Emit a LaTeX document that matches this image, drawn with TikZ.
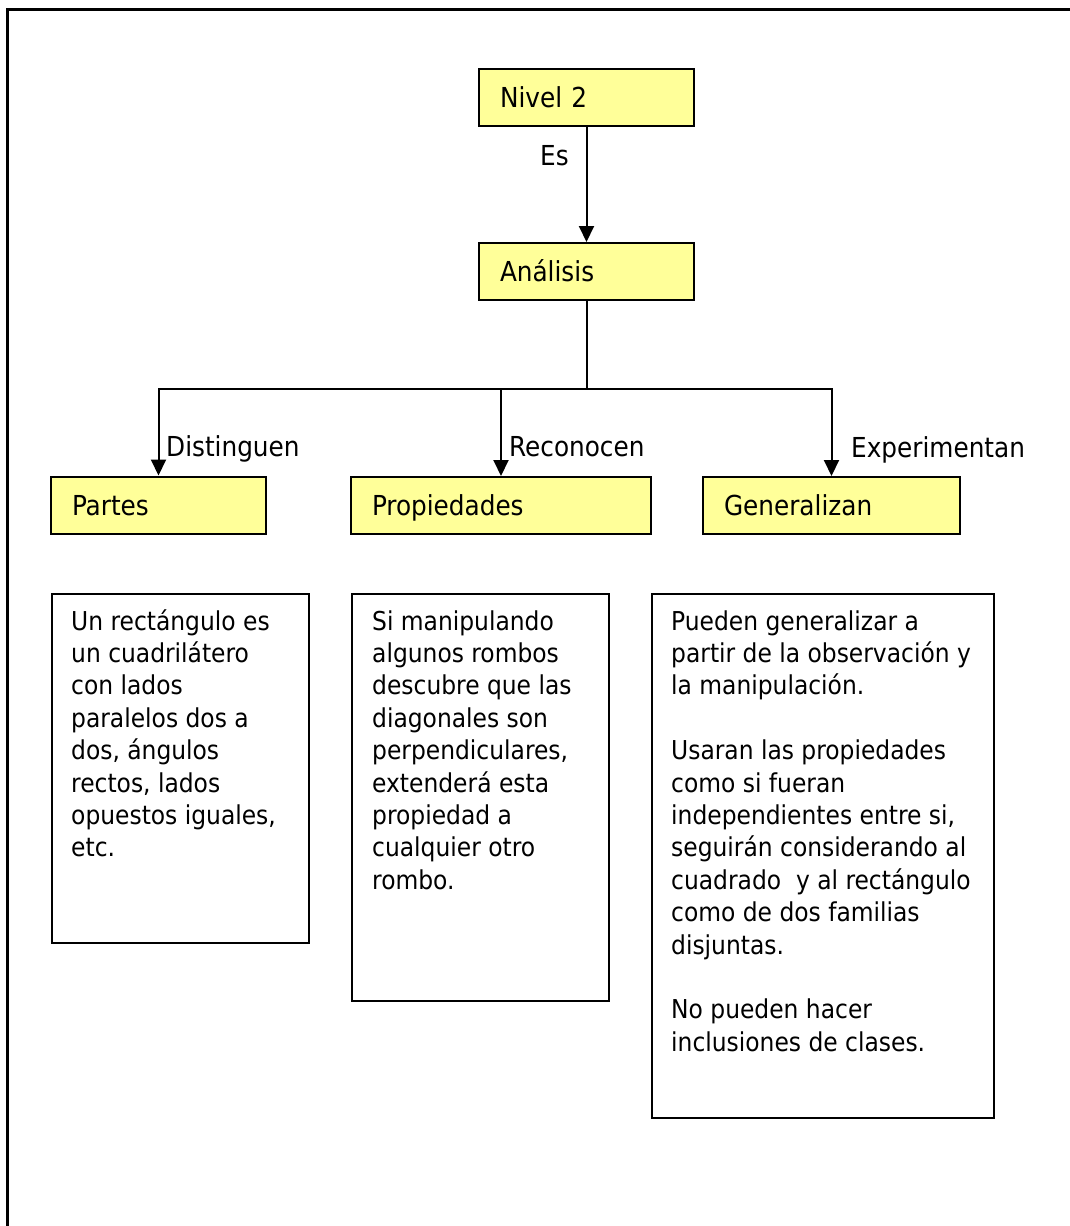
\documentclass[tikz,border=0pt]{standalone}
\usepackage{fontspec}
\setmainfont{DejaVu Sans Condensed}
\usetikzlibrary{arrows.meta}
\definecolor{boxyellow}{HTML}{FFFF99}
\begin{document}
\begin{tikzpicture}[x=1pt,y=-1pt,
  hdr/.style={draw=black, line width=2pt, fill=boxyellow, minimum height=57pt,
    inner xsep=21pt, inner ysep=0pt, align=left, text height=20pt, text depth=0pt,
    font=\fontsize{27.5}{33}\selectfont},
  lbl/.style={inner sep=0pt, font=\fontsize{27.5}{33}\selectfont},
  tbox/.style={draw=black, line width=2pt, anchor=north west, inner sep=0pt},
  ttext/.style={anchor=north west, inner sep=0pt, align=left, font=\fontsize{26}{32.4}\selectfont},
  conn/.style={line width=2pt},
  arr/.style={line width=2pt, -{Triangle[width=15pt,length=16pt]}}
]
\useasboundingbox (0,0) rectangle (1069,1226);
% outer frame
\draw[line width=3pt] (1080,9) -- (7,9) -- (7,1240);

% header boxes
\node[hdr, text width=173pt] (nivel) at (586.5,97) {Nivel 2};
\node[hdr, text width=173pt] (analisis) at (586.5,271.5) {Análisis};
\node[hdr, text width=173pt] (partes) at (158.5,505) {Partes};
\node[hdr, text width=258pt] (prop) at (501,505.5) {Propiedades};
\node[hdr, text width=215pt] (gen) at (831.5,505.5) {Generalizan};

% connectors
\draw[arr] (nivel.south) -- (analisis.north);
\draw[conn] (analisis.south) -- ++(0,88) coordinate (split);
\draw[arr] (split) -| (partes.north);
\draw[arr] (split) -| (prop.north);
\draw[arr] (split) -| (gen.north);

% labels
\node[lbl, anchor=base west] (les) at (540,165) {Es};
\node[lbl, anchor=base west] (ldis) at (166,456) {Distinguen};
\node[lbl, anchor=base west] (lrec) at (509,456) {Reconocen};
\node[lbl, anchor=base west] (lexp) at (851,457) {Experimentan};

% text boxes
\node[tbox, minimum width=257pt, minimum height=349pt] (b1) at (51,593) {};
\node[tbox, minimum width=257pt, minimum height=407pt] (b2) at (351,593) {};
\node[tbox, minimum width=342pt, minimum height=524pt] (b3) at (651,593) {};

\node[ttext] (t1) at ([xshift=20pt,yshift=-14.3pt]b1.north west) {\strut Un rectángulo es\\
un cuadrilátero\\
con lados\\
paralelos dos a\\
dos, ángulos\\
rectos, lados\\
opuestos iguales,\\
etc.};
\node[ttext] (t2) at ([xshift=21pt,yshift=-14.3pt]b2.north west) {\strut Si manipulando\\
algunos rombos\\
descubre que las\\
diagonales son\\
perpendiculares,\\
extenderá esta\\
propiedad a\\
cualquier otro\\
rombo.};
\node[ttext] (t3) at ([xshift=20pt,yshift=-14.3pt]b3.north west) {\strut Pueden generalizar a\\
partir de la observación y\\
la manipulación.\\[32.4pt]
Usaran las propiedades\\
como si fueran\\
independientes entre si,\\
seguirán considerando al\\
cuadrado\ \ y al rectángulo\\
como de dos familias\\
disjuntas.\\[32.4pt]
No pueden hacer\\
inclusiones de clases.};
\end{tikzpicture}
\end{document}
